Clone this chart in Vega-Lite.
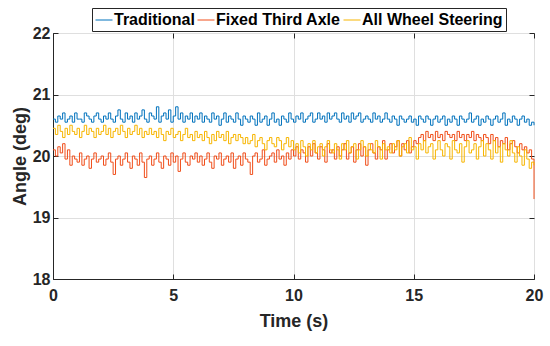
{
"$schema": "https://vega.github.io/schema/vega-lite/v6.json",
"width": 481, "height": 246,
"autosize": "none",
"padding": {"left": 53, "top": 33, "right": 16, "bottom": 67},
"background": "white",
"config": {"view": {"stroke": "#262626", "strokeWidth": 1}, "font": "Liberation Sans"},
"data": {"values": [
{"t":0,"T":20.6,"F":20.1,"A":20.45},{"t":0.1,"T":20.55,"F":20.0,"A":20.35},{"t":0.2,"T":20.65,"F":20.15,"A":20.5},{"t":0.3,"T":20.6,"F":20.05,"A":20.4},{"t":0.4,"T":20.7,"F":20.2,"A":20.3},{"t":0.5,"T":20.55,"F":19.95,"A":20.45},{"t":0.6,"T":20.6,"F":20.1,"A":20.35},{"t":0.7,"T":20.65,"F":19.85,"A":20.5},{"t":0.8,"T":20.55,"F":20.0,"A":20.4},{"t":0.9,"T":20.7,"F":19.95,"A":20.35},
{"t":1.0,"T":20.6,"F":19.9,"A":20.45},{"t":1.1,"T":20.6,"F":20.05,"A":20.3},{"t":1.2,"T":20.55,"F":19.85,"A":20.4},{"t":1.3,"T":20.7,"F":19.95,"A":20.5},{"t":1.4,"T":20.65,"F":20.0,"A":20.35},{"t":1.5,"T":20.6,"F":19.8,"A":20.45},{"t":1.6,"T":20.55,"F":19.95,"A":20.4},{"t":1.7,"T":20.65,"F":20.05,"A":20.3},{"t":1.8,"T":20.7,"F":19.9,"A":20.45},{"t":1.9,"T":20.6,"F":19.95,"A":20.35},
{"t":2.0,"T":20.55,"F":20.0,"A":20.4},{"t":2.1,"T":20.65,"F":19.85,"A":20.5},{"t":2.2,"T":20.6,"F":19.95,"A":20.35},{"t":2.3,"T":20.7,"F":20.05,"A":20.45},{"t":2.4,"T":20.6,"F":19.9,"A":20.3},{"t":2.5,"T":20.55,"F":19.7,"A":20.4},{"t":2.6,"T":20.65,"F":19.95,"A":20.45},{"t":2.7,"T":20.75,"F":20.0,"A":20.35},{"t":2.8,"T":20.6,"F":19.85,"A":20.5},{"t":2.9,"T":20.55,"F":19.95,"A":20.4},
{"t":3.0,"T":20.7,"F":20.05,"A":20.3},{"t":3.1,"T":20.6,"F":19.9,"A":20.45},{"t":3.2,"T":20.65,"F":19.8,"A":20.35},{"t":3.3,"T":20.55,"F":20.0,"A":20.4},{"t":3.4,"T":20.7,"F":19.95,"A":20.5},{"t":3.5,"T":20.6,"F":19.85,"A":20.35},{"t":3.6,"T":20.65,"F":20.05,"A":20.45},{"t":3.7,"T":20.75,"F":19.9,"A":20.3},{"t":3.8,"T":20.6,"F":19.65,"A":20.4},{"t":3.9,"T":20.55,"F":19.95,"A":20.35},
{"t":4.0,"T":20.7,"F":20.0,"A":20.45},{"t":4.1,"T":20.65,"F":19.85,"A":20.35},{"t":4.2,"T":20.6,"F":19.95,"A":20.4},{"t":4.3,"T":20.8,"F":20.05,"A":20.3},{"t":4.4,"T":20.55,"F":19.9,"A":20.45},{"t":4.5,"T":20.65,"F":19.8,"A":20.35},{"t":4.6,"T":20.7,"F":20.0,"A":20.25},{"t":4.7,"T":20.6,"F":19.95,"A":20.4},{"t":4.8,"T":20.75,"F":19.85,"A":20.35},{"t":4.9,"T":20.55,"F":20.05,"A":20.45},
{"t":5.0,"T":20.65,"F":19.9,"A":20.3},{"t":5.1,"T":20.8,"F":20.0,"A":20.35},{"t":5.2,"T":20.6,"F":19.75,"A":20.4},{"t":5.3,"T":20.7,"F":19.95,"A":20.25},{"t":5.4,"T":20.55,"F":20.05,"A":20.35},{"t":5.5,"T":20.65,"F":19.9,"A":20.45},{"t":5.6,"T":20.6,"F":19.85,"A":20.3},{"t":5.7,"T":20.7,"F":20.0,"A":20.35},{"t":5.8,"T":20.55,"F":19.95,"A":20.25},{"t":5.9,"T":20.65,"F":20.05,"A":20.4},
{"t":6.0,"T":20.6,"F":19.9,"A":20.3},{"t":6.1,"T":20.7,"F":20.0,"A":20.35},{"t":6.2,"T":20.55,"F":19.85,"A":20.25},{"t":6.3,"T":20.65,"F":19.95,"A":20.4},{"t":6.4,"T":20.6,"F":20.05,"A":20.3},{"t":6.5,"T":20.55,"F":19.9,"A":20.2},{"t":6.6,"T":20.7,"F":19.8,"A":20.35},{"t":6.7,"T":20.6,"F":20.0,"A":20.25},{"t":6.8,"T":20.65,"F":19.95,"A":20.4},{"t":6.9,"T":20.5,"F":20.05,"A":20.3},
{"t":7.0,"T":20.6,"F":19.85,"A":20.35},{"t":7.1,"T":20.7,"F":19.95,"A":20.25},{"t":7.2,"T":20.55,"F":20.0,"A":20.4},{"t":7.3,"T":20.65,"F":19.9,"A":20.2},{"t":7.4,"T":20.6,"F":20.05,"A":20.3},{"t":7.5,"T":20.55,"F":19.8,"A":20.35},{"t":7.6,"T":20.7,"F":19.95,"A":20.25},{"t":7.7,"T":20.6,"F":20.0,"A":20.35},{"t":7.8,"T":20.5,"F":19.85,"A":20.3},{"t":7.9,"T":20.65,"F":20.05,"A":20.2},
{"t":8.0,"T":20.6,"F":19.95,"A":20.3},{"t":8.1,"T":20.55,"F":19.9,"A":20.2},{"t":8.2,"T":20.65,"F":19.7,"A":20.25},{"t":8.3,"T":20.6,"F":20.0,"A":20.35},{"t":8.4,"T":20.5,"F":20.05,"A":20.15},{"t":8.5,"T":20.7,"F":19.9,"A":20.25},{"t":8.6,"T":20.55,"F":19.95,"A":20.3},{"t":8.7,"T":20.6,"F":20.1,"A":20.2},{"t":8.8,"T":20.65,"F":19.85,"A":20.1},{"t":8.9,"T":20.5,"F":19.95,"A":20.25},
{"t":9.0,"T":20.6,"F":20.0,"A":20.3},{"t":9.1,"T":20.7,"F":20.05,"A":20.2},{"t":9.2,"T":20.55,"F":19.9,"A":20.15},{"t":9.3,"T":20.6,"F":20.1,"A":20.3},{"t":9.4,"T":20.5,"F":19.95,"A":20.25},{"t":9.5,"T":20.65,"F":20.0,"A":20.1},{"t":9.6,"T":20.6,"F":19.85,"A":20.2},{"t":9.7,"T":20.55,"F":20.05,"A":20.3},{"t":9.8,"T":20.7,"F":19.95,"A":20.15},{"t":9.9,"T":20.6,"F":20.1,"A":20.25},
{"t":10.0,"T":20.55,"F":20.0,"A":20.1},{"t":10.1,"T":20.65,"F":20.15,"A":20.2},{"t":10.2,"T":20.6,"F":19.95,"A":20.05},{"t":10.3,"T":20.7,"F":20.1,"A":20.25},{"t":10.4,"T":20.55,"F":20.05,"A":20.15},{"t":10.5,"T":20.6,"F":19.9,"A":20.0},{"t":10.6,"T":20.65,"F":20.15,"A":20.2},{"t":10.7,"T":20.7,"F":20.0,"A":20.1},{"t":10.8,"T":20.55,"F":20.2,"A":20.25},{"t":10.9,"T":20.6,"F":20.05,"A":20.05},
{"t":11.0,"T":20.7,"F":19.95,"A":20.15},{"t":11.1,"T":20.6,"F":20.15,"A":20.2},{"t":11.2,"T":20.65,"F":20.1,"A":20.0},{"t":11.3,"T":20.55,"F":19.9,"A":20.15},{"t":11.4,"T":20.7,"F":20.2,"A":20.25},{"t":11.5,"T":20.6,"F":20.05,"A":20.1},{"t":11.6,"T":20.65,"F":20.1,"A":20.05},{"t":11.7,"T":20.7,"F":19.95,"A":20.2},{"t":11.8,"T":20.6,"F":20.15,"A":20.1},{"t":11.9,"T":20.55,"F":20.0,"A":19.95},
{"t":12.0,"T":20.7,"F":20.1,"A":20.2},{"t":12.1,"T":20.6,"F":20.2,"A":20.1},{"t":12.2,"T":20.65,"F":19.95,"A":20.25},{"t":12.3,"T":20.55,"F":20.05,"A":20.05},{"t":12.4,"T":20.7,"F":20.15,"A":20.15},{"t":12.5,"T":20.6,"F":19.9,"A":20.2},{"t":12.6,"T":20.65,"F":20.1,"A":19.95},{"t":12.7,"T":20.7,"F":20.2,"A":20.1},{"t":12.8,"T":20.55,"F":20.0,"A":20.25},{"t":12.9,"T":20.6,"F":20.15,"A":20.15},
{"t":13.0,"T":20.65,"F":19.85,"A":20.0},{"t":13.1,"T":20.6,"F":20.1,"A":20.2},{"t":13.2,"T":20.55,"F":20.2,"A":20.1},{"t":13.3,"T":20.7,"F":20.05,"A":20.05},{"t":13.4,"T":20.6,"F":19.95,"A":20.25},{"t":13.5,"T":20.65,"F":20.15,"A":20.15},{"t":13.6,"T":20.55,"F":20.1,"A":19.95},{"t":13.7,"T":20.6,"F":20.25,"A":20.2},{"t":13.8,"T":20.7,"F":19.95,"A":20.1},{"t":13.9,"T":20.6,"F":20.1,"A":20.15},
{"t":14.0,"T":20.55,"F":20.2,"A":20.05},{"t":14.1,"T":20.65,"F":20.05,"A":20.2},{"t":14.2,"T":20.6,"F":20.15,"A":20.1},{"t":14.3,"T":20.5,"F":20.25,"A":20.25},{"t":14.4,"T":20.65,"F":20.0,"A":20.0},{"t":14.5,"T":20.6,"F":20.2,"A":20.15},{"t":14.6,"T":20.55,"F":20.1,"A":20.2},{"t":14.7,"T":20.6,"F":20.25,"A":20.05},{"t":14.8,"T":20.65,"F":20.05,"A":20.3},{"t":14.9,"T":20.55,"F":20.15,"A":20.1},
{"t":15.0,"T":20.6,"F":20.25,"A":20.15},{"t":15.1,"T":20.5,"F":20.2,"A":19.95},{"t":15.2,"T":20.65,"F":20.3,"A":20.2},{"t":15.3,"T":20.6,"F":20.35,"A":20.1},{"t":15.4,"T":20.55,"F":20.25,"A":20.25},{"t":15.5,"T":20.65,"F":20.4,"A":20.05},{"t":15.6,"T":20.6,"F":20.3,"A":20.15},{"t":15.7,"T":20.5,"F":20.35,"A":20.2},{"t":15.8,"T":20.6,"F":20.25,"A":19.95},{"t":15.9,"T":20.65,"F":20.4,"A":20.1},
{"t":16.0,"T":20.55,"F":20.3,"A":20.25},{"t":16.1,"T":20.6,"F":20.35,"A":20.1},{"t":16.2,"T":20.65,"F":20.25,"A":20.0},{"t":16.3,"T":20.5,"F":20.4,"A":20.2},{"t":16.4,"T":20.6,"F":20.35,"A":20.15},{"t":16.5,"T":20.55,"F":20.3,"A":19.95},{"t":16.6,"T":20.65,"F":20.35,"A":20.25},{"t":16.7,"T":20.6,"F":20.25,"A":20.1},{"t":16.8,"T":20.5,"F":20.4,"A":20.05},{"t":16.9,"T":20.65,"F":20.3,"A":20.2},
{"t":17.0,"T":20.6,"F":20.35,"A":19.9},{"t":17.1,"T":20.55,"F":20.25,"A":20.15},{"t":17.2,"T":20.6,"F":20.35,"A":20.25},{"t":17.3,"T":20.7,"F":20.3,"A":20.05},{"t":17.4,"T":20.55,"F":20.4,"A":20.1},{"t":17.5,"T":20.6,"F":20.25,"A":20.2},{"t":17.6,"T":20.65,"F":20.35,"A":19.95},{"t":17.7,"T":20.5,"F":20.3,"A":20.15},{"t":17.8,"T":20.6,"F":20.25,"A":20.25},{"t":17.9,"T":20.55,"F":20.35,"A":20.0},
{"t":18.0,"T":20.65,"F":20.3,"A":20.2},{"t":18.1,"T":20.6,"F":20.2,"A":20.1},{"t":18.2,"T":20.5,"F":20.35,"A":19.95},{"t":18.3,"T":20.6,"F":20.25,"A":20.25},{"t":18.4,"T":20.65,"F":20.3,"A":20.05},{"t":18.5,"T":20.55,"F":20.15,"A":20.15},{"t":18.6,"T":20.6,"F":20.25,"A":19.9},{"t":18.7,"T":20.7,"F":20.2,"A":20.2},{"t":18.8,"T":20.5,"F":20.3,"A":20.1},{"t":18.9,"T":20.6,"F":20.1,"A":20.0},
{"t":19.0,"T":20.55,"F":20.2,"A":20.25},{"t":19.1,"T":20.65,"F":20.25,"A":20.05},{"t":19.2,"T":20.6,"F":20.15,"A":19.9},{"t":19.3,"T":20.5,"F":20.05,"A":20.15},{"t":19.4,"T":20.6,"F":20.2,"A":20.0},{"t":19.5,"T":20.65,"F":20.1,"A":19.85},{"t":19.6,"T":20.55,"F":20.15,"A":20.1},{"t":19.7,"T":20.6,"F":20.05,"A":19.95},{"t":19.8,"T":20.5,"F":20.1,"A":19.8},{"t":19.9,"T":20.55,"F":19.95,"A":19.9},
{"t":20.0,"T":20.5,"F":19.3,"A":19.85}
]},
"transform": [{"fold": ["T", "F", "A"], "as": ["s", "v"]}],
"layer": [
{"mark": {"type": "line", "strokeWidth": 1, "interpolate": "step-after"},
 "encoding": {
  "x": {"field": "t", "type": "quantitative", "scale": {"domain": [0, 20], "nice": false},
        "axis": {"values": [0, 5, 10, 15, 20], "title": "Time (s)", "titleFontSize": 18, "titleFontWeight": "bold", "titleColor": "#262626", "titlePadding": 9,
                 "labelFontSize": 16, "labelFontWeight": "bold", "labelColor": "#262626", "labelPadding": 13, "labelFlush": false, "labelAngle": 0,
                 "tickSize": -5, "tickColor": "#262626", "domainColor": "#262626", "gridColor": "#dfdfdf", "grid": true}},
  "y": {"field": "v", "type": "quantitative", "scale": {"domain": [18, 22], "nice": false, "zero": false},
        "axis": {"values": [18, 19, 20, 21, 22], "title": "Angle (deg)", "titleFontSize": 18, "titleFontWeight": "bold", "titleColor": "#262626", "titlePadding": 3,
                 "labelFontSize": 16, "labelFontWeight": "bold", "labelColor": "#262626", "labelPadding": 8, "labelFlush": false,
                 "tickSize": -5, "tickColor": "#262626", "domainColor": "#262626", "gridColor": "#dfdfdf", "grid": true}},
  "color": {"field": "s", "type": "nominal", "sort": ["T", "F", "A"],
            "scale": {"domain": ["T", "F", "A"], "range": ["#0072BD", "#F04E1A", "#F7B500"]},
            "legend": {"orient": "none", "legendX": 39, "legendY": -25, "direction": "horizontal", "title": null,
                       "labelExpr": "{'T':'Traditional','F':'Fixed Third Axle','A':'All Wheel Steering'}[datum.label]",
                       "symbolType": "stroke", "symbolSize": 289, "symbolStrokeWidth": 1,
                       "labelFont": "Liberation Sans", "labelFontSize": 16, "labelFontWeight": "bold", "labelColor": "black",
                       "strokeColor": "#262626", "fillColor": "white", "padding": 3, "columnPadding": 0, "labelOffset": 1, "labelLimit": 200}}
 }},
{"mark": {"type": "point", "opacity": 0},
 "encoding": {
  "x": {"field": "t", "type": "quantitative", "axis": {"orient": "top", "values": [0, 5, 10, 15, 20], "labels": false, "title": null, "grid": false, "domain": false, "tickSize": -5, "tickColor": "#262626"}},
  "y": {"field": "v", "type": "quantitative", "axis": {"orient": "right", "values": [18, 19, 20, 21, 22], "labels": false, "title": null, "grid": false, "domain": false, "tickSize": -5, "tickColor": "#262626"}}
 }}
],
"resolve": {"axis": {"x": "independent", "y": "independent"}}
}
